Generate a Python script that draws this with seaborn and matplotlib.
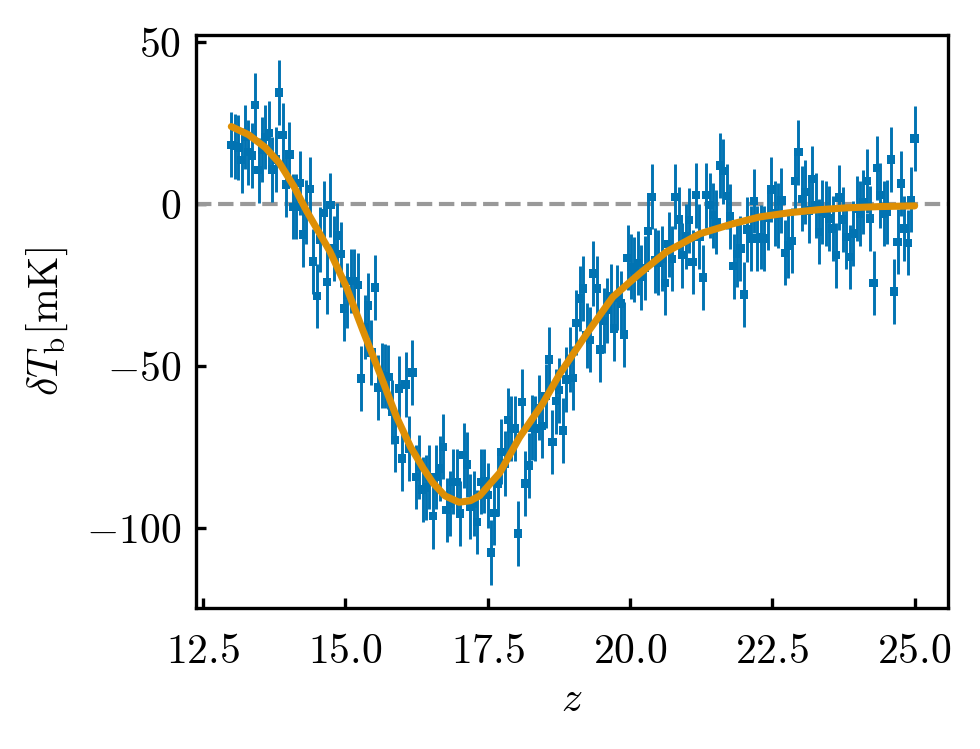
import numpy as np
import pandas as pd
import seaborn as sns
import matplotlib.pyplot as plt

# observed brightness temperature (mK), evenly spaced in z from 13 to 25
dTb_obs = [
    18.4, 17.9, 17.5, 13.6, 20.8, 16.1, 15.1, 30.6, 10.5, 16.9,
    20.8, 22.0, 10.7, 13.8, 34.5, 21.3, 6.1, 15.4, -0.8, -0.8,
    6.6, -9.3, -2.4, 4.7, -17.7, -28.3, -10.9, -2.7, -24.0, -0.2,
    -13.7, -9.6, -15.4, -32.2, -28.1, -23.7, -23.7, -25.0, -53.8, -37.9,
    -31.2, -45.8, -25.7, -56.6, -52.9, -53.0, -53.3, -64.1, -72.8, -56.9,
    -78.5, -55.6, -75.4, -51.9,
    -84.2, -81.1, -88.1, -87.4, -84.2, -96.3, -84.2, -81.6, -74.9, -94.4,
    -92.4, -85.7, -85.7, -95.5, -77.5, -80.3, -93.4, -92.4, -98.1, -85.7,
    -85.4, -89.8, -107.5, -95.3, -86.2, -76.4,
    -80.0, -66.7, -69.2, -69.2, -101.6, -61.0, -86.2, -80.6, -69.0, -69.2,
    -62.8, -68.4, -59.2, -47.9, -73.4, -60.8, -57.4, -69.8, -54.1, -47.9, -53.6,
    -36.6, -29.1, -26.0, -40.4, -41.8, -21.4, -26.0, -44.8, -36.0, -32.7,
    -28.4, -38.4, -28.8, -30.6, -40.2, -16.5, -19.3, -20.2, -18.1,
    -22.5, -19.7, -8.3, 2.3, -17.3, -18.0, -16.8, -24.3, -12.3, -16.8,
    2.3, -4.7, -15.7, -9.9, -4.9, -17.8, 2.8, -9.9, -22.6, 2.8,
    -0.3, -3.4, -5.5, 12.0, 10.2, 2.5, -3.7, -19.1, -15.4, -13.7,
    -27.9, -7.8, -10.6, 1.0, -10.6, -10.1, -10.6, -4.1,
    4.6, -2.8, -3.4, 1.2, -15.0, -12.7, -11.3, 7.1, 16.1, 1.7,
    3.8, -1.9, 7.9, -0.3, -8.5, -2.4, -2.9, -4.4, -7.5, -15.7,
    2.1, -4.7, -10.1, -16.3, -9.0, -1.3, -2.9, 0.7, 7.2, -4.4,
    -24.3, 11.2, 2.8, -2.9, -2.4, 13.8, -26.9, -11.6, 6.4, -7.5,
    -11.9, 1.4, 20.3,
]
dTb_err = 10.0
z_obs = np.linspace(13.0, 25.0, len(dTb_obs))

# fitted model curve
fit_z = [13.0, 13.3, 13.6, 13.85, 14.1, 14.32, 14.73, 15.02, 15.31, 15.61,
         15.9, 16.15, 16.37, 16.54, 16.75, 17.0, 17.2, 17.36, 17.71, 18.06,
         18.47, 18.77, 19.24, 19.7, 20.17, 20.64, 21.23, 21.81, 22.28, 22.8,
         23.3, 23.8, 24.4, 25.0]
fit_T = [24.0, 21.5, 17.5, 12.6, 5.5, -2.0, -14.5, -25.5, -38.9, -52.3,
         -65.6, -75.0, -81.5, -86.0, -90.0, -92.0, -91.5, -90.0, -83.0, -72.0,
         -61.5, -52.3, -40.0, -28.6, -21.4, -14.7, -9.1, -6.0, -3.9, -2.6,
         -1.7, -1.1, -0.7, -0.5]

obs = pd.DataFrame({"z": z_obs, "dTb": dTb_obs})
fit = pd.DataFrame({"z": fit_z, "dTb": fit_T})

sns.set_style("ticks")
plt.rcParams["font.family"] = "serif"
plt.rcParams["font.serif"] = ["cmr10"]
plt.rcParams["mathtext.fontset"] = "cm"
plt.rcParams["axes.formatter.use_mathtext"] = True
plt.rcParams["font.size"] = 10
for key in ["text.color", "axes.labelcolor", "xtick.color", "ytick.color",
            "axes.edgecolor"]:
    plt.rcParams[key] = "black"

pal = sns.color_palette("colorblind")

fig, ax = plt.subplots(figsize=(980 / 300, 749 / 300), dpi=300)
fig.subplots_adjust(left=0.2, right=0.967, top=0.953, bottom=0.188)

ax.axhline(0, color="#999999", ls="--", lw=1.0, zorder=1)
ax.errorbar(obs["z"], obs["dTb"], yerr=dTb_err, fmt="none",
            ecolor=pal[0], elinewidth=0.7, zorder=2)
sns.scatterplot(data=obs, x="z", y="dTb", marker="s", s=4, color=pal[0],
                edgecolor="none", ax=ax, zorder=2)
sns.lineplot(data=fit, x="z", y="dTb", color=pal[1], lw=1.7, ax=ax, zorder=3)

ax.set_xlim(12.38, 25.58)
ax.set_ylim(-124.7, 52.2)
ax.set_yticks([-100, -50, 0, 50])
ax.tick_params(direction="in", length=2.5, width=0.8, labelsize=10)
ax.tick_params(axis="x", pad=6)
ax.set_xlabel(r"$z$", labelpad=2.5)
ax.set_ylabel(r"$\delta T_{\rm b}[{\rm mK}]$")
for s in ax.spines.values():
    s.set_linewidth(0.8)

plt.savefig("out.png", dpi=300)
